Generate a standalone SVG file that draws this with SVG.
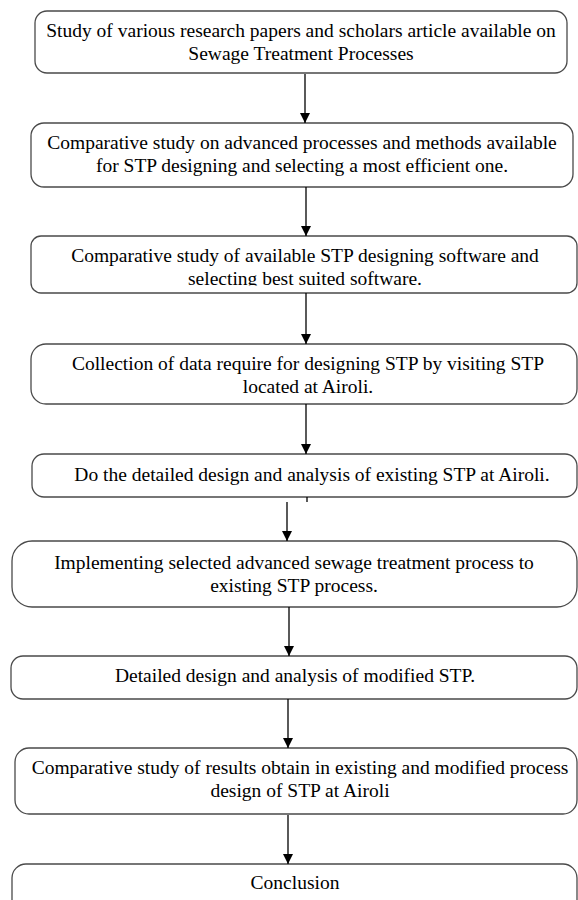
<svg xmlns="http://www.w3.org/2000/svg" width="578" height="900" viewBox="0 0 578 900">
<style>
.box{fill:#ffffff;stroke:#4a4a4a;stroke-width:1.3}
.t{font-family:"Liberation Serif","Times New Roman",serif;font-size:19.5px;fill:#000;text-anchor:middle}
.c{stroke:#000;stroke-width:1.3;fill:none}
</style>
<defs>
<marker id="ah" viewBox="0 0 10 10" refX="10" refY="5" markerWidth="10" markerHeight="10" markerUnits="userSpaceOnUse" orient="auto">
<path d="M0,0 L10,5 L0,10 z" fill="#000"/>
</marker>
<clipPath id="clip3"><rect x="0" y="230" width="578" height="55.5"/></clipPath>
</defs>
<rect width="578" height="900" fill="#ffffff"/>
<g id="n1">
<rect class="box" x="35" y="11" width="532" height="62" rx="12"/>
<text class="t" x="301" y="37">Study of various research papers and scholars article available on</text>
<text class="t" x="301" y="60">Sewage Treatment Processes</text>
</g>
<g id="n2">
<rect class="box" x="31" y="123" width="542" height="64" rx="13"/>
<text class="t" x="302" y="149">Comparative study on advanced processes and methods available</text>
<text class="t" x="302" y="172">for STP designing and selecting a most efficient one.</text>
</g>
<g id="n3">
<rect class="box" x="31" y="236" width="546" height="57" rx="10"/>
<g clip-path="url(#clip3)">
<text class="t" x="305" y="262">Comparative study of available STP designing software and</text>
<text class="t" x="305" y="285">selecting best suited software.</text>
</g>
</g>
<g id="n4">
<rect class="box" x="31" y="344" width="546" height="60" rx="15"/>
<text class="t" x="308" y="370">Collection of data require for designing STP by visiting STP</text>
<text class="t" x="308" y="393">located at Airoli.</text>
</g>
<g id="n5">
<rect class="box" x="32" y="454" width="545" height="43" rx="12"/>
<text class="t" x="312" y="481">Do the detailed design and analysis of existing STP at Airoli.</text>
</g>
<g id="n6">
<rect class="box" x="12" y="541" width="565" height="66" rx="20"/>
<text class="t" x="294" y="569">Implementing selected advanced sewage treatment process to</text>
<text class="t" x="294" y="592">existing STP process.</text>
</g>
<g id="n7">
<rect class="box" x="11" y="656" width="566" height="43" rx="12"/>
<text class="t" x="295" y="682">Detailed design and analysis of modified STP.</text>
</g>
<g id="n8">
<rect class="box" x="15" y="748" width="562" height="66" rx="14"/>
<text class="t" x="300" y="774">Comparative study of results obtain in existing and modified process</text>
<text class="t" x="300" y="797">design of STP at Airoli</text>
</g>
<g id="n9">
<rect class="box" x="12" y="864" width="565" height="60" rx="14"/>
<text class="t" x="295" y="889">Conclusion</text>
</g>
<g id="connectors">
<line class="c" x1="305" y1="74" x2="305" y2="123" marker-end="url(#ah)"/>
<line class="c" x1="306" y1="187" x2="306" y2="236" marker-end="url(#ah)"/>
<line class="c" x1="306" y1="293" x2="306" y2="344" marker-end="url(#ah)"/>
<line class="c" x1="306" y1="404" x2="306" y2="454" marker-end="url(#ah)"/>
<line class="c" x1="307" y1="497" x2="307" y2="502"/>
<line class="c" x1="287" y1="502" x2="287" y2="541" marker-end="url(#ah)"/>
<line class="c" x1="289" y1="607" x2="289" y2="656" marker-end="url(#ah)"/>
<line class="c" x1="288" y1="699" x2="288" y2="748" marker-end="url(#ah)"/>
<line class="c" x1="288" y1="815" x2="288" y2="864" marker-end="url(#ah)"/>
</g>
</svg>
